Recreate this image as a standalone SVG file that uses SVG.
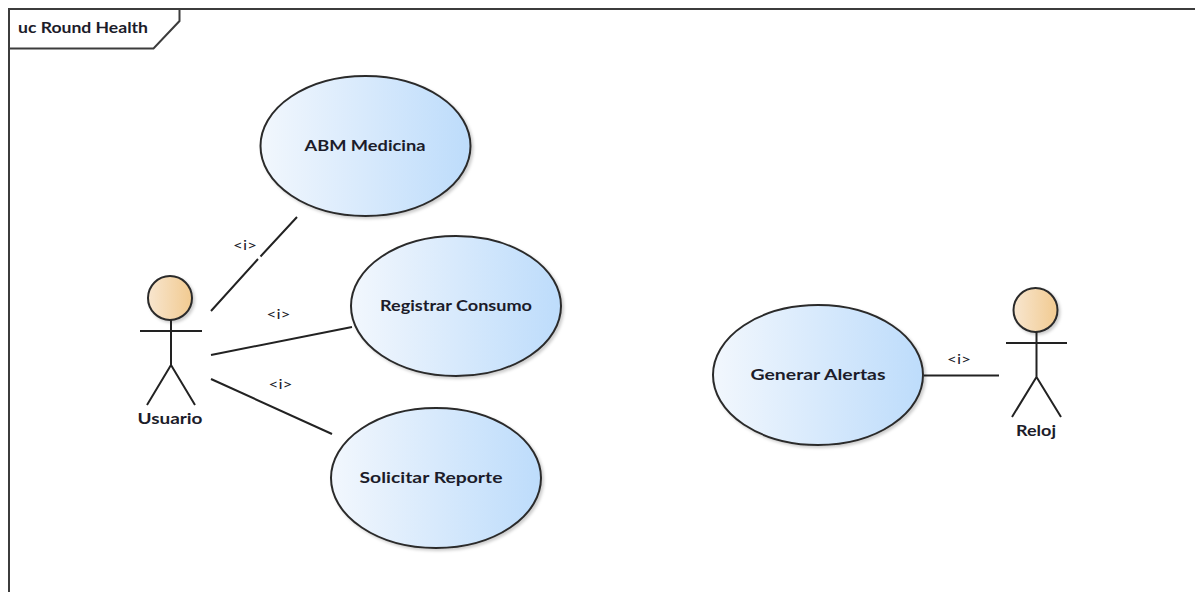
<svg xmlns="http://www.w3.org/2000/svg" width="1195" height="592" viewBox="0 0 1195 592">
<style>
text{font-family:Lato,"Open Sans","Liberation Sans",sans-serif;font-weight:700;font-size:15.500px;fill:#1c1c2a;text-anchor:middle}
.uc{fill:url(#ucg);stroke:#2b2b2b;stroke-width:2;filter:url(#sh)}
.head{fill:url(#acg);stroke:#2b2b2b;stroke-width:2;filter:url(#sh)}
.line{stroke:#222;stroke-width:2;fill:none}
.st{font-weight:400;font-size:14px}
</style>
<defs>
<linearGradient id="ucg"><stop offset="0" stop-color="#f2f7fd"/><stop offset="1" stop-color="#bddcfb"/></linearGradient>
<linearGradient id="acg"><stop offset="0" stop-color="#f8e6cf"/><stop offset="1" stop-color="#f1ca90"/></linearGradient>
<filter id="sh" x="-10%" y="-10%" width="125%" height="125%"><feDropShadow dx="2" dy="2" stdDeviation="1.5" flood-color="#000" flood-opacity=".2"/></filter>
</defs>
<rect width="1195" height="592" fill="#fff"/>
<g id="frame">
<path d="M9 592V9H1195" fill="none" stroke="#3c3c3c" stroke-width="2"/>
<path d="M9 48.500H153.500L179.500 21V9" fill="none" stroke="#3c3c3c" stroke-width="2"/>
<text x="83" y="33" textLength="130" lengthAdjust="spacingAndGlyphs">uc Round Health</text>
</g>
<g id="connectors">
<path class="line" d="M211 311L258 259M260.500 256.500L297 217"/>
<path class="line" d="M211 355L352 327"/>
<path class="line" d="M211 379L332 434"/>
<path class="line" d="M924 375.500H999"/>
<text class="st" x="245" y="250" textLength="24" lengthAdjust="spacingAndGlyphs">&lt;i&gt;</text>
<text class="st" x="278.500" y="319" textLength="24" lengthAdjust="spacingAndGlyphs">&lt;i&gt;</text>
<text class="st" x="280.500" y="389" textLength="24" lengthAdjust="spacingAndGlyphs">&lt;i&gt;</text>
<text class="st" x="959" y="364" textLength="24" lengthAdjust="spacingAndGlyphs">&lt;i&gt;</text>
</g>
<g id="abm"><ellipse class="uc" cx="365.500" cy="146" rx="105" ry="70"/><text x="365" y="151" textLength="121" lengthAdjust="spacingAndGlyphs">ABM Medicina</text></g>
<g id="registrar"><ellipse class="uc" cx="456" cy="306" rx="105" ry="70"/><text x="456" y="311" textLength="152" lengthAdjust="spacingAndGlyphs">Registrar Consumo</text></g>
<g id="solicitar"><ellipse class="uc" cx="436" cy="478" rx="105" ry="70"/><text x="431" y="483" textLength="143" lengthAdjust="spacingAndGlyphs">Solicitar Reporte</text></g>
<g id="generar"><ellipse class="uc" cx="818" cy="375" rx="105" ry="70"/><text x="818" y="380" textLength="135" lengthAdjust="spacingAndGlyphs">Generar Alertas</text></g>
<g id="usuario">
<circle class="head" cx="170" cy="298" r="22"/>
<path class="line" d="M140 331H202M171 320V365L147 405M171 365L195 405"/>
<text x="170" y="424" textLength="65" lengthAdjust="spacingAndGlyphs">Usuario</text>
</g>
<g id="reloj">
<circle class="head" cx="1035.500" cy="310" r="22"/>
<path class="line" d="M1006 343H1067M1036.500 332V377L1012 417M1036.500 377L1061 417"/>
<text x="1036" y="436" textLength="40" lengthAdjust="spacingAndGlyphs">Reloj</text>
</g>
</svg>
